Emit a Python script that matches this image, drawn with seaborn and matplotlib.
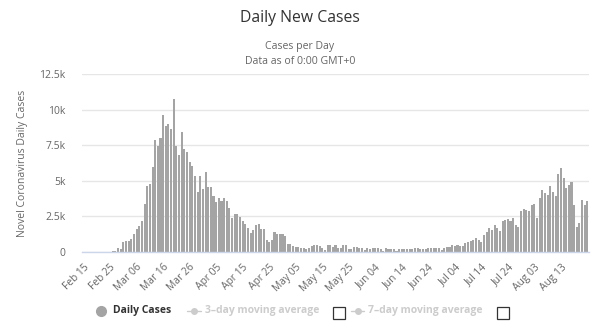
import matplotlib
matplotlib.use("Agg")
import matplotlib.pyplot as plt
import numpy as np
import pandas as pd
import seaborn as sns
from matplotlib.lines import Line2D
from matplotlib.patches import Rectangle

# ---- data (daily new cases, Feb 15 - Aug 23) ----
feb_cases = [0, 0, 0, 0, 0, 0, 0, 0, 10, 20, 30, 60, 80, 280, 180]
mar_cases = [680, 770, 770, 910, 1240, 1610, 1850, 2180, 3390, 4610, 4800, 5940,
             7890, 7470, 7980, 9590, 8820, 8990, 8660, 10740, 7470, 6830, 8400,
             7230, 7040, 6320, 6010, 5340, 4240, 5310, 4450]
apr_cases = [5640, 4540, 4540, 3910, 3490, 3790, 3560, 3800, 3600, 3100, 2400,
             2650, 2700, 2450, 2200, 2000, 1700, 1300, 1550, 1900, 2000, 1650,
             1650, 870, 680, 870, 1380, 1290, 1290, 1290]
may_cases = [1150, 560, 560, 400, 370, 330, 250, 250, 200, 300, 450, 470, 470,
             420, 300, 150, 470, 470, 380, 470, 270, 270, 470, 470, 200, 200,
             380, 380, 260, 270, 150]
jun_cases = [300, 200, 250, 260, 250, 200, 90, 250, 200, 200, 190, 50, 200, 200,
             180, 200, 230, 230, 280, 280, 230, 230, 230, 260, 300, 300, 300,
             250, 140, 260]
jul_cases = [330, 350, 470, 420, 515, 420, 400, 630, 725, 770, 865, 980, 830,
             700, 1190, 1380, 1660, 1570, 1900, 1660, 1470, 2200, 2270, 2320,
             2150, 2380, 1910, 1790, 2880, 3040, 2970]
aug_cases = [2860, 3330, 3400, 2400, 3820, 4340, 4110, 4010, 4630, 4200, 3920,
             5500, 5920, 5170, 4460, 4670, 4930, 3310, 1750, 2050, 3630, 3330,
             3610]

start_date = "2020-02-15"
x_tick_labels = ["Feb 15", "Feb 25", "Mar 06", "Mar 16", "Mar 26", "Apr 05",
                 "Apr 15", "Apr 25", "May 05", "May 15", "May 25", "Jun 04",
                 "Jun 14", "Jun 24", "Jul 04", "Jul 14", "Jul 24", "Aug 03",
                 "Aug 13"]
y_tick_values = [0, 2500, 5000, 7500, 10000, 12500]
y_tick_labels = ["0", "2.5k", "5k", "7.5k", "10k", "12.5k"]

cases = feb_cases + mar_cases + apr_cases + may_cases + jun_cases + jul_cases + aug_cases
dates = pd.date_range(start_date, periods=len(cases), freq="D")
df = pd.DataFrame({"date": dates.strftime("%Y-%m-%d"), "cases": cases})

# ---- figure ----
sns.set_theme(style="white")
plt.rcParams["font.family"] = ["Open Sans", "DejaVu Sans"]

W, H = 600, 332
fig = plt.figure(figsize=(W / 100, H / 100), dpi=100)
L, R, T, B = 82, 589, 74, 252
ax = fig.add_axes([L / W, 1 - B / H, (R - L) / W, (B - T) / H])

sns.barplot(data=df, x="date", y="cases", color="#a4a4a4", saturation=1,
            width=0.78, linewidth=0, ax=ax)

ax.set_ylim(0, 12500)
ax.set_xlim(-0.6, len(cases) - 0.4)
ax.set_yticks(y_tick_values)
ax.set_yticklabels(y_tick_labels)
ax.set_xticks(np.arange(len(x_tick_labels)) * 10)
ax.set_xticklabels(x_tick_labels, rotation=45, ha="right", rotation_mode="anchor")
ax.tick_params(axis="x", length=0, pad=7, labelsize=7.4, colors="#666666")
ax.tick_params(axis="y", length=0, pad=12, labelsize=7.5, colors="#666666")
ax.set_xlabel("")
ax.set_ylabel("Novel Coronavirus Daily Cases", fontsize=7.5, color="#666666", labelpad=8)

ax.yaxis.grid(True, color="#e6e6e6", linewidth=1)
ax.xaxis.grid(False)
ax.set_axisbelow(True)
for s in ["top", "right", "left"]:
    ax.spines[s].set_visible(False)
ax.spines["bottom"].set_color("#ccd6eb")
ax.spines["bottom"].set_linewidth(1)

# ---- titles ----
fig.text(0.5, 1 - 18 / H, "Daily New Cases", ha="center", va="center",
         fontsize=11.3, color="#333333")
fig.text(0.5, 1 - 46 / H, "Cases per Day", ha="center", va="center",
         fontsize=7.6, color="#666666")
fig.text(0.5, 1 - 62 / H, "Data as of 0:00 GMT+0", ha="center", va="center",
         fontsize=7.6, color="#666666")

# ---- legend (manual, like the Highcharts legend row) ----
ly = 1 - 311 / H
fig.add_artist(Line2D([101 / W], [ly], marker="o", markersize=7, color="#a4a4a4",
                      transform=fig.transFigure, linestyle="none"))
fig.text(113 / W, ly, "Daily Cases", ha="left", va="center", fontsize=7.5,
         fontweight="bold", color="#333333")
fig.add_artist(Line2D([187 / W, 201 / W], [ly, ly], color="#cccccc", linewidth=1,
                      transform=fig.transFigure))
fig.add_artist(Line2D([194 / W], [ly], marker="o", markersize=4, color="#cccccc",
                      transform=fig.transFigure, linestyle="none"))
fig.text(205 / W, ly, "3\u2013day moving average", ha="left", va="center",
         fontsize=7.5, fontweight="bold", color="#cccccc")
fig.add_artist(Rectangle((333 / W, 1 - 319 / H), 12 / W, 12 / H,
                         transform=fig.transFigure, fill=False,
                         edgecolor="#333333", linewidth=0.9))
fig.add_artist(Line2D([351 / W, 364 / W], [ly, ly], color="#cccccc", linewidth=1,
                      transform=fig.transFigure))
fig.add_artist(Line2D([357.5 / W], [ly], marker="o", markersize=4, color="#cccccc",
                      transform=fig.transFigure, linestyle="none"))
fig.text(368 / W, ly, "7\u2013day moving average", ha="left", va="center",
         fontsize=7.5, fontweight="bold", color="#cccccc")
fig.add_artist(Rectangle((497 / W, 1 - 319 / H), 12 / W, 12 / H,
                         transform=fig.transFigure, fill=False,
                         edgecolor="#333333", linewidth=0.9))

fig.savefig("out.png", dpi=100)
